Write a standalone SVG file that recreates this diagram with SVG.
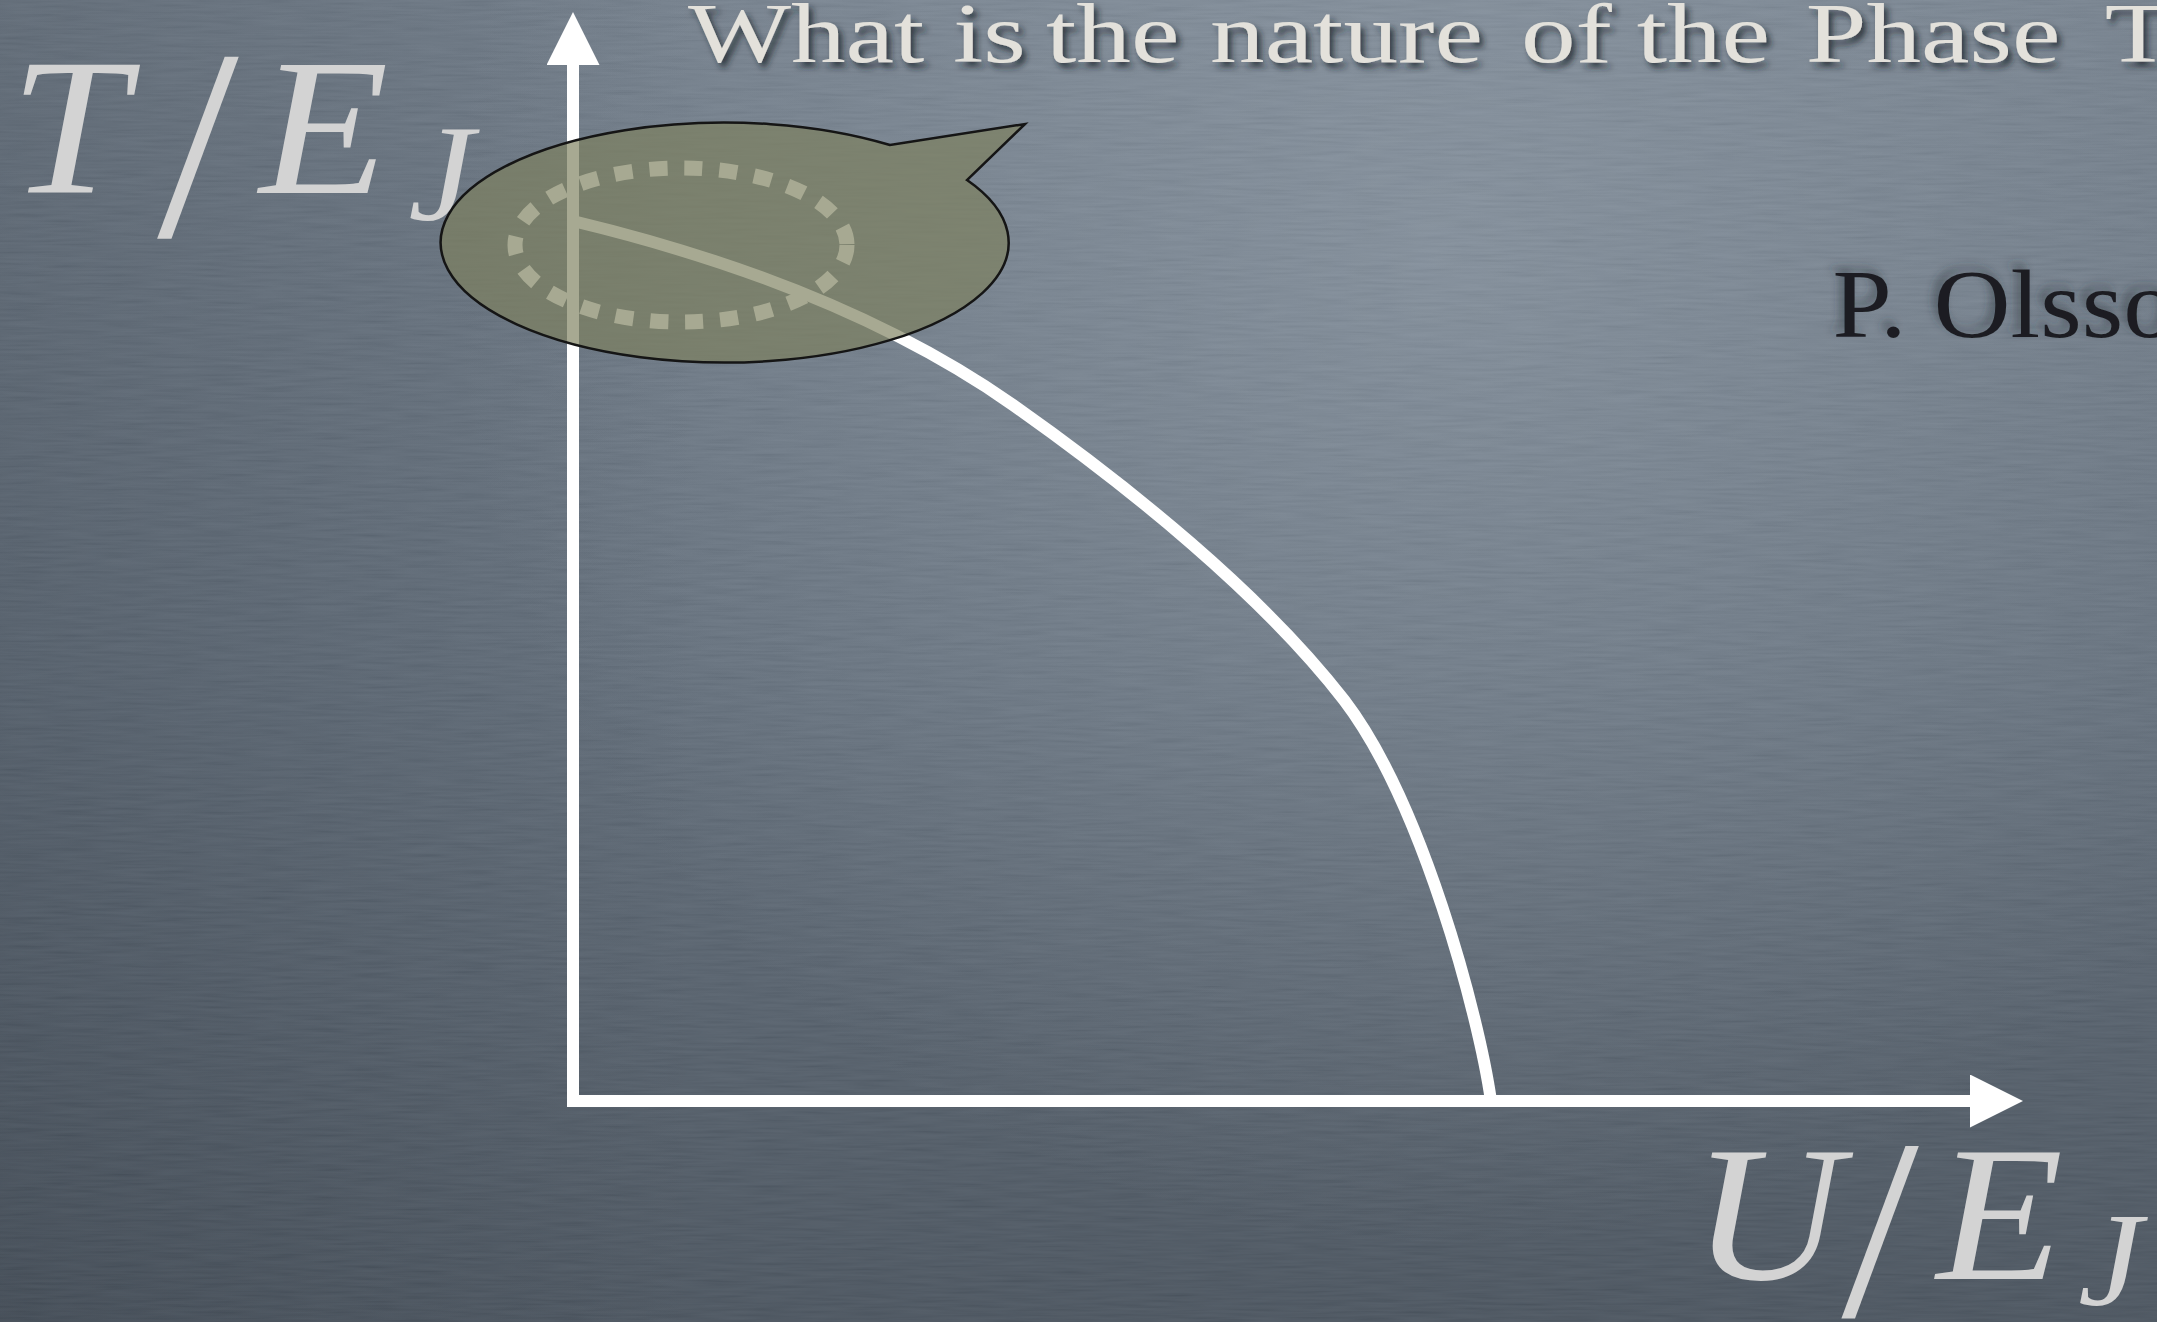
<svg xmlns="http://www.w3.org/2000/svg" width="2157" height="1322" viewBox="0 0 2157 1322">
<style>
.axis{stroke:#ffffff;stroke-width:12;fill:none;marker-end:url(#arrow)}
.curve{stroke:#ffffff;stroke-width:12;fill:none;stroke-linecap:butt;stroke-linejoin:round}
.math{font-family:'Liberation Serif',serif;fill:#d3d3d3;font-style:italic}
.serif{font-family:'Liberation Serif',serif}
</style>
<defs>
<linearGradient id="bgV" x1="0" y1="0" x2="0" y2="1322" gradientUnits="userSpaceOnUse">
<stop offset="0" stop-color="#6f7b88"/>
<stop offset="0.5" stop-color="#5f6b78"/>
<stop offset="1" stop-color="#48525d"/>
</linearGradient>
<radialGradient id="bgGlow" cx="1450" cy="250" r="1000" gradientUnits="userSpaceOnUse">
<stop offset="0" stop-color="#a4b0bc" stop-opacity="0.42"/>
<stop offset="1" stop-color="#a4b0bc" stop-opacity="0"/>
</radialGradient>
<linearGradient id="bgLeft" x1="0" y1="0" x2="700" y2="0" gradientUnits="userSpaceOnUse">
<stop offset="0" stop-color="#1e2630" stop-opacity="0.22"/>
<stop offset="1" stop-color="#1e2630" stop-opacity="0"/>
</linearGradient>
<filter id="paper" x="0" y="0" width="2157" height="1322" filterUnits="userSpaceOnUse">
<feTurbulence type="fractalNoise" baseFrequency="0.02 0.35" numOctaves="2" seed="7"/>
<feColorMatrix type="matrix" values="1 0 0 0 0  1 0 0 0 0  1 0 0 0 0  0 0 0 0 0.08"/>
</filter>
<filter id="titleShadow" x="-5%" y="-30%" width="110%" height="170%">
<feDropShadow dx="4" dy="5" stdDeviation="3" flood-color="#1b2129" flood-opacity="0.75"/>
</filter>
<filter id="authorShadow" x="-10%" y="-30%" width="120%" height="160%">
<feDropShadow dx="-5" dy="-6" stdDeviation="4" flood-color="#2a3038" flood-opacity="0.45"/>
</filter>
<marker id="arrow" markerUnits="userSpaceOnUse" markerWidth="53" markerHeight="53" viewBox="0 0 53 53" refX="0" refY="26.5" orient="auto">
<path d="M0,0 L53,26.5 L0,53 Z" fill="#ffffff"/>
</marker>
</defs>

<g id="background">
<rect x="0" y="0" width="2157" height="1322" fill="url(#bgV)"/>
<rect x="0" y="0" width="2157" height="1322" fill="url(#bgGlow)"/>
<rect x="0" y="0" width="2157" height="1322" fill="url(#bgLeft)"/>
<rect x="0" y="0" width="2157" height="1322" filter="url(#paper)"/>
</g>

<g id="connectors">
<line id="y-axis" class="axis" x1="573" y1="1107" x2="573" y2="65"/>
<line id="x-axis" class="axis" x1="567" y1="1101" x2="1970" y2="1101"/>
<path id="phase-boundary" class="curve" d="M573,221 C723,257 883,314 1013,405 C1128,486 1262,594 1344,700 C1422,802 1479,1016 1491,1101"/>
</g>

<g id="callout">
<ellipse id="highlight-ring" cx="681" cy="245" rx="166" ry="77" fill="none" stroke="#ffffff" stroke-width="15" stroke-dasharray="18 17"/>
<path id="speech-bubble" d="M967,180 A284,120 0 1 1 890,145 L1025,124 Z" fill="#7e805e" fill-opacity="0.68" stroke="#151515" stroke-width="2.5" stroke-linejoin="miter"/>
</g>

<g id="title" filter="url(#titleShadow)">
<text class="serif" transform="scale(1.3 1)" font-size="84" fill="#e3e1db" y="62"><tspan x="529.2">What </tspan><tspan x="733.1">is </tspan><tspan x="804.6">the </tspan><tspan x="930.8">nature </tspan><tspan x="1170">of </tspan><tspan x="1259">the </tspan><tspan x="1389">Phase </tspan><tspan x="1619">T</tspan></text>
</g>

<g id="author" filter="url(#authorShadow)">
<text class="serif" transform="scale(1.1 1)" x="1666" y="337" font-size="97" fill="#1d1f23">P. Olsso</text>
</g>

<g id="label-y">
<text class="math" transform="scale(1.08 1)"><tspan x="9" y="193" font-size="196">T</tspan><tspan x="145.5" y="236" font-size="272" font-style="normal">/</tspan><tspan x="240" y="193" font-size="196">E</tspan><tspan x="378" y="220" font-size="137">J</tspan></text>
</g>

<g id="label-x">
<text class="math" transform="scale(1.08 1)"><tspan x="1567" y="1279" font-size="192">U</tspan><tspan x="1705" y="1316" font-size="258" font-style="normal">/</tspan><tspan x="1793" y="1279" font-size="192">E</tspan><tspan x="1924" y="1305" font-size="134">J</tspan></text>
</g>
</svg>
